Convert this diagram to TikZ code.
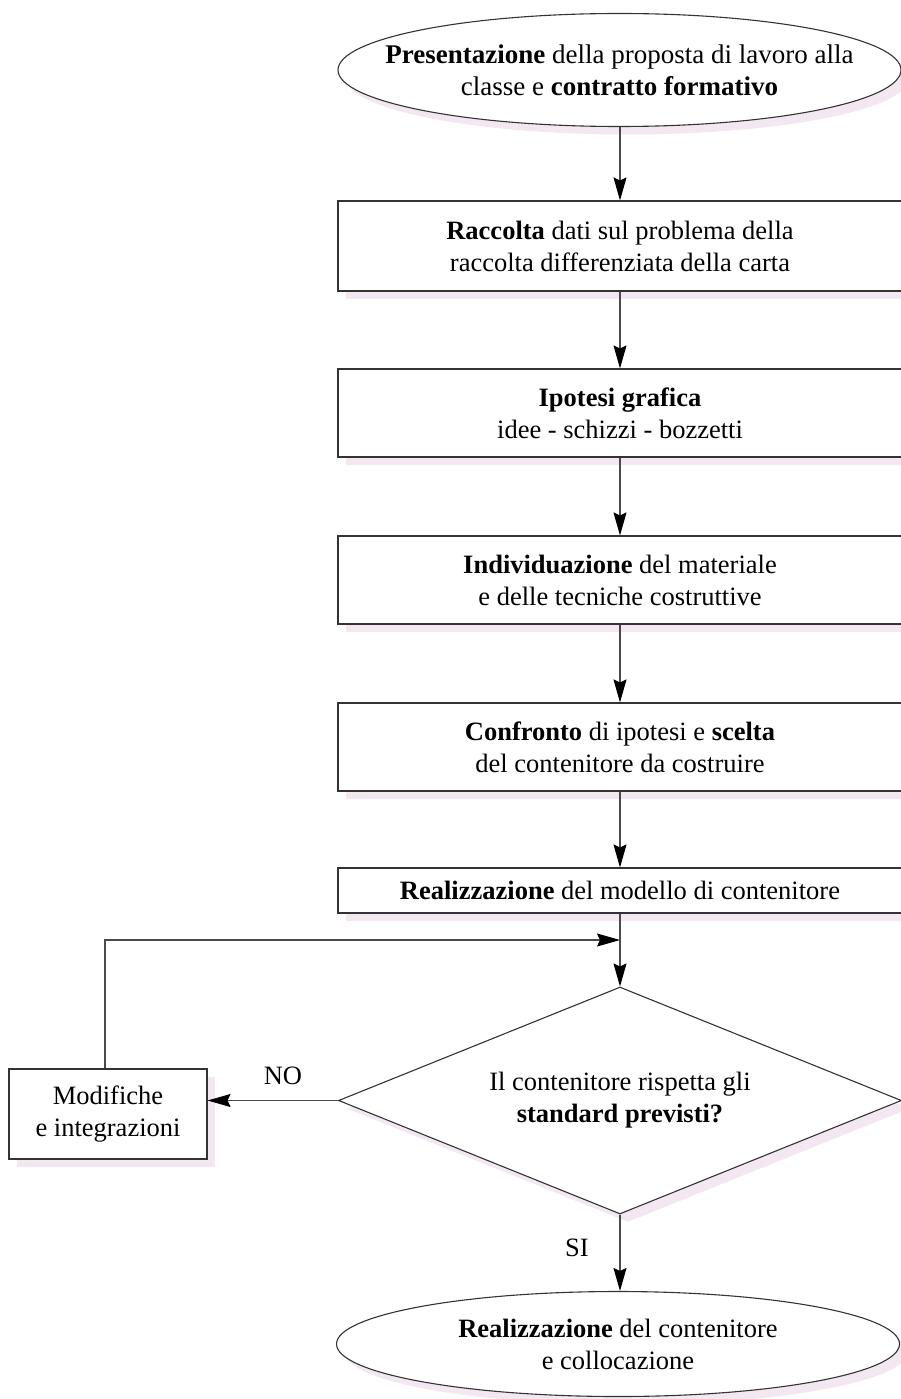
\documentclass[tikz,border=0pt]{standalone}
\usepackage{fontspec}
\setmainfont{Liberation Serif}
\usetikzlibrary{shapes.geometric,shadows,arrows.meta}
\definecolor{shade}{HTML}{F3E8F1}
\definecolor{edge}{HTML}{333333}
\definecolor{wire}{HTML}{4A4A4A}
\begin{document}
\begin{tikzpicture}[x=1pt,y=-1pt,
  font=\fontsize{26.5}{32}\selectfont,
  shadowed/.style={drop shadow={fill=shade,opacity=1,shadow xshift=8pt,shadow yshift=-8pt}},
  stepbox/.style={draw=edge,line width=1.1pt,fill=white,shadowed,rectangle,
    minimum width=564pt,inner sep=0pt,align=center},
  terminal/.style={draw=edge,line width=1.1pt,fill=white,shadowed,ellipse,
    minimum width=563pt,minimum height=113pt,inner xsep=-60pt,inner ysep=0pt,align=center},
  decision/.style={draw=edge,line width=1.1pt,fill=white,shadowed,diamond,
    minimum width=563pt,minimum height=227pt,aspect=2.48,inner sep=0pt,align=center},
  flow/.style={draw=wire,line width=1.1pt,
    -{Stealth[length=23pt,width=13pt,inset=3pt,color=black]}},
  tag/.style={inner sep=0pt}]
\path[use as bounding box] (0,0) rectangle (901,1399);

\node[terminal,font=\fontsize{27}{32}\selectfont] (start) at (619.5,70)
  {\textbf{Presentazione} della proposta di lavoro alla\\classe e \textbf{contratto formativo}};
\node[stepbox,minimum height=90pt] (data) at (620,246)
  {\textbf{Raccolta} dati sul problema della\\raccolta differenziata della carta};
\node[stepbox,minimum height=88pt] (sketch) at (620,413)
  {\textbf{Ipotesi grafica}\\idee - schizzi - bozzetti};
\node[stepbox,minimum height=88pt] (material) at (620,580)
  {\textbf{Individuazione} del materiale\\e delle tecniche costruttive};
\node[stepbox,minimum height=88pt] (choice) at (620,747)
  {\textbf{Confronto} di ipotesi e \textbf{scelta}\\del contenitore da costruire};
\node[stepbox,minimum height=45pt] (model) at (620,890.5)
  {\textbf{Realizzazione} del modello di contenitore};
\node[decision] (check) at (620,1100.5)
  {Il contenitore rispetta gli\\\textbf{standard previsti?}};
\node[stepbox,minimum width=198pt,minimum height=90pt] (fix) at (108,1114)
  {Modifiche\\e integrazioni};
\node[terminal,minimum height=105pt] (final) at (618,1344)
  {\textbf{Realizzazione} del contenitore\\e collocazione};

\coordinate (join) at (model.south |- 0,940);

\draw[flow] (data.north |- start.south) -- (data.north);
\draw[flow] (data) -- (sketch);
\draw[flow] (sketch) -- (material);
\draw[flow] (material) -- (choice);
\draw[flow] (choice) -- (model);
\draw[flow] (model.south) -- (check.north);
\draw[flow] ([xshift=-3pt]fix.north) |- (join);
\draw[flow] (check.west) -- (check.west -| fix.east);
\draw[flow] (check.south) -- (check.south |- final.north);

\node[tag] (no) at (283,1076) {NO};
\node[tag] (yes) at (577,1248) {SI};
\end{tikzpicture}
\end{document}
